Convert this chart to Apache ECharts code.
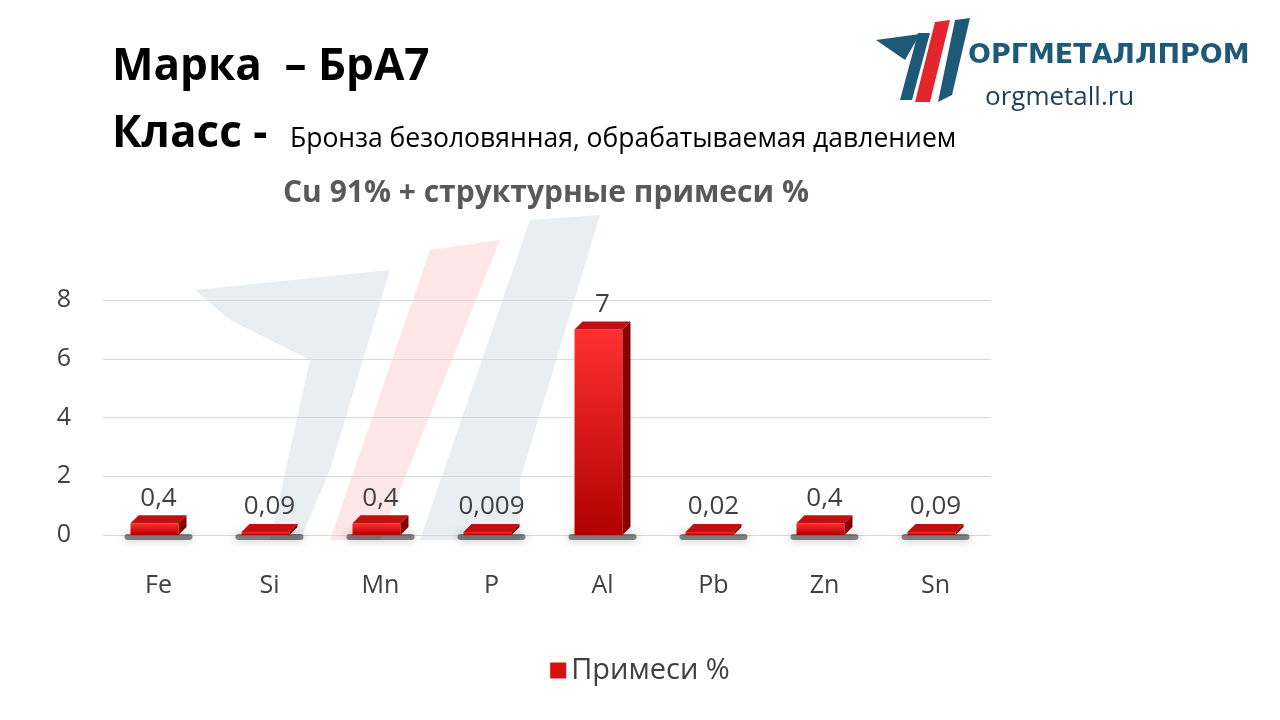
<!DOCTYPE html>
<html><head><meta charset="utf-8">
<script src="https://cdn.jsdelivr.net/npm/echarts@6/dist/echarts.min.js"></script>
<style>html,body{margin:0;background:#fff}#main{width:1280px;height:720px}</style>
</head><body><div id="main"></div>
<script>
var categories = ['Fe', 'Si', 'Mn', 'P', 'Al', 'Pb', 'Zn', 'Sn'];
var values = [0.4, 0.09, 0.4, 0.009, 7, 0.02, 0.4, 0.09];
var labels = ['0,4', '0,09', '0,4', '0,009', '7', '0,02', '0,4', '0,09'];
var yTicks = [0, 2, 4, 6, 8];

var myChart = echarts.init(document.getElementById('main'));
var font = '"Open Sans", "Noto Sans", sans-serif';

var option = {
  animation: false,
  grid: {left: 103, right: 289, top: 300, bottom: 185},
  legend: {
    bottom: 30, left: 'center', itemWidth: 16, itemHeight: 16,
    textStyle: {fontSize: 29, color: '#404040', fontFamily: font},
    data: [{name: 'Примеси %', icon: 'rect', itemStyle: {color: '#d81010'}}]
  },
  xAxis: {
    type: 'category', data: categories,
    axisLine: {show: false}, axisTick: {show: false},
    axisLabel: {fontSize: 25, color: '#404040', fontFamily: font, margin: 38}
  },
  yAxis: {
    type: 'value', min: 0, max: 8, interval: 2,
    axisLine: {show: false}, axisTick: {show: false},
    axisLabel: {fontSize: 25, color: '#404040', fontFamily: font, margin: 32,
      formatter: function (v) { return yTicks.indexOf(v) >= 0 ? String(v) : ''; }},
    splitLine: {lineStyle: {color: '#d9d9d9'}}
  },
  graphic: [
    {type: 'text', left: 112, top: 45, style: {text: 'Марка  – БрА7', font: 'bold 44px ' + font, fill: '#000'}},
    {type: 'text', left: 112, top: 112, style: {text: 'Класс -', font: 'bold 44px ' + font, fill: '#000'}},
    {type: 'text', left: 290, top: 126, style: {text: 'Бронза безоловянная, обрабатываемая давлением', font: '26.5px ' + font, fill: '#000'}},
    {type: 'text', left: 283, top: 178, style: {text: 'Cu 91% + структурные примеси %', font: 'bold 30px ' + font, fill: '#595959'}},
    // logo
    {type: 'polygon', shape: {points: [[876, 40], [918, 33], [900, 100], [912, 100], [930, 33], [925, 33], [918, 33]]}, style: {fill: '#1e5a78'}},
    {type: 'polygon', shape: {points: [[876, 40], [920, 34], [905, 60]]}, style: {fill: '#1e5a78'}},
    {type: 'polygon', shape: {points: [[915, 102], [935, 22], [950, 20], [930, 102]]}, style: {fill: '#e3262e'}},
    {type: 'polygon', shape: {points: [[938, 102], [955, 20], [970, 18], [952, 95]]}, style: {fill: '#1e5a78'}},
    {type: 'text', left: 968, top: 42, style: {text: 'ОРГМЕТАЛЛПРОМ', font: 'bold 27px "DejaVu Sans", sans-serif', fill: '#1e5a78'}},
    {type: 'text', left: 985, top: 85, style: {text: 'orgmetall.ru', font: '26px ' + font, fill: '#1e3f5a'}},
    // faint watermark
    {type: 'polygon', z: -1, shape: {points: [[195, 290], [390, 270], [330, 470], [300, 540], [270, 540], [310, 360], [230, 320]]}, style: {fill: '#e8eef2'}},
    {type: 'polygon', z: -1, shape: {points: [[330, 540], [430, 250], [500, 240], [380, 540]]}, style: {fill: '#fde6e6'}},
    {type: 'polygon', z: -1, shape: {points: [[420, 540], [530, 220], [600, 215], [520, 480], [520, 540]]}, style: {fill: '#e8eef2'}}
  ],
  series: [{
    name: 'Примеси %', type: 'custom', data: values,
    renderItem: function (params, api) {
      var i = params.dataIndex;
      var top = api.coord([i, api.value(1)]);
      var base = api.coord([i, 0]);
      var w = 48, d = 8, x0 = top[0] - w / 2 - 4, yb = base[1];
      var yt = Math.min(top[1], yb - 3);
      var grad = new echarts.graphic.LinearGradient(0, 0, 0, 1, [{offset: 0, color: '#ff3030'}, {offset: 1, color: '#b00000'}]);
      return {type: 'group', children: [
        {type: 'rect', shape: {x: x0 - 6, y: yb - 1, width: w + 20, height: 6, r: 3}, style: {fill: 'rgba(0,0,0,0.45)', shadowBlur: 10, shadowColor: 'rgba(0,0,0,0.6)'}},
        {type: 'rect', shape: {x: x0, y: yt, width: w, height: yb - yt}, style: {fill: grad}},
        {type: 'polygon', shape: {points: [[x0, yt], [x0 + d, yt - d], [x0 + w + d, yt - d], [x0 + w, yt]]}, style: {fill: '#c01010'}},
        {type: 'polygon', shape: {points: [[x0 + w, yt], [x0 + w + d, yt - d], [x0 + w + d, yb - d], [x0 + w, yb]]}, style: {fill: '#8a0000'}},
        {type: 'text', style: {text: labels[i], x: x0 + w / 2 + 4, y: yt - 12, align: 'center', verticalAlign: 'bottom', font: '26px ' + font, fill: '#404040'}}
      ]};
    }
  }]
};
myChart.setOption(option);
window.onresize = function () { myChart.resize(); };
</script></body></html>
